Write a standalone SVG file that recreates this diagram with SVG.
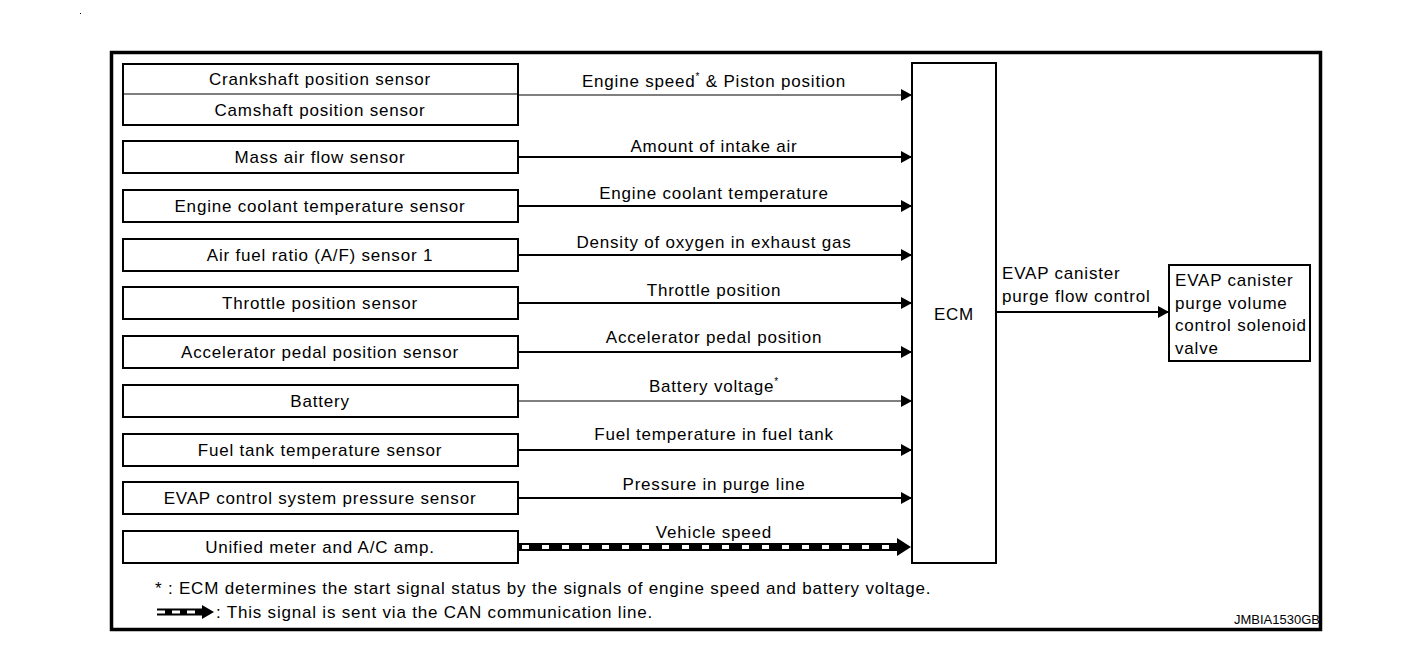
<svg xmlns="http://www.w3.org/2000/svg" width="1408" height="654" viewBox="0 0 1408 654">
<defs>
<style>
text{font-family:"Liberation Sans",Arial,sans-serif;font-size:17px;fill:#000;letter-spacing:0.8px}
.c{text-anchor:middle}
.box{fill:#fff;stroke:#000;stroke-width:2}
.ln{stroke:#000;stroke-width:2;fill:none}
.thin{stroke-width:1.2}
.sup{font-size:10px}
</style>
<marker id="ah" markerUnits="userSpaceOnUse" markerWidth="12" markerHeight="14" refX="11" refY="6" orient="auto">
<path d="M0,0 L11,6 L0,12 Z" fill="#000"/>
</marker>
</defs>
<rect x="0" y="0" width="1408" height="654" fill="#fff"/>
<rect x="80" y="13" width="1" height="1" fill="#000"/>
<rect x="111.5" y="52.5" width="1209" height="577" fill="none" stroke="#000" stroke-width="3.5"/>

<g id="n-crank-cam">
<rect class="box" x="123" y="64" width="395" height="61"/>
<line x1="123" y1="94" x2="518" y2="94" stroke="#000" stroke-width="1"/>
<text class="c" x="320" y="85">Crankshaft position sensor</text>
<text class="c" x="320" y="116">Camshaft position sensor</text>
</g>
<g id="n-maf"><rect class="box" x="123" y="141" width="395" height="32"/><text class="c" x="320" y="163">Mass air flow sensor</text></g>
<g id="n-ect"><rect class="box" x="123" y="190" width="395" height="32"/><text class="c" x="320" y="212">Engine coolant temperature sensor</text></g>
<g id="n-af"><rect class="box" x="123" y="239" width="395" height="32"/><text class="c" x="320" y="261">Air fuel ratio (A/F) sensor 1</text></g>
<g id="n-tps"><rect class="box" x="123" y="287" width="395" height="32"/><text class="c" x="320" y="309">Throttle position sensor</text></g>
<g id="n-app"><rect class="box" x="123" y="336" width="395" height="32"/><text class="c" x="320" y="358">Accelerator pedal position sensor</text></g>
<g id="n-bat"><rect class="box" x="123" y="385" width="395" height="32"/><text class="c" x="320" y="407">Battery</text></g>
<g id="n-ftt"><rect class="box" x="123" y="434" width="395" height="32"/><text class="c" x="320" y="456">Fuel tank temperature sensor</text></g>
<g id="n-evp"><rect class="box" x="123" y="482" width="395" height="32"/><text class="c" x="320" y="504">EVAP control system pressure sensor</text></g>
<g id="n-meter"><rect class="box" x="123" y="531" width="395" height="32"/><text class="c" x="320" y="553">Unified meter and A/C amp.</text></g>

<g id="n-ecm"><rect class="box" x="912" y="63" width="84" height="500"/><text class="c" x="954" y="320">ECM</text></g>
<g id="n-valve">
<rect class="box" x="1169" y="265" width="141" height="96"/>
<text x="1175" y="286">EVAP canister</text>
<text x="1175" y="309">purge volume</text>
<text x="1175" y="331">control solenoid</text>
<text x="1175" y="354">valve</text>
</g>

<g id="connectors">
<line class="ln thin" x1="518" y1="95" x2="912" y2="95" marker-end="url(#ah)"/>
<line class="ln" x1="518" y1="157" x2="912" y2="157" marker-end="url(#ah)"/>
<line class="ln" x1="518" y1="206" x2="912" y2="206" marker-end="url(#ah)"/>
<line class="ln" x1="518" y1="255" x2="912" y2="255" marker-end="url(#ah)"/>
<line class="ln" x1="518" y1="303" x2="912" y2="303" marker-end="url(#ah)"/>
<line class="ln" x1="518" y1="352" x2="912" y2="352" marker-end="url(#ah)"/>
<line class="ln thin" x1="518" y1="401" x2="912" y2="401" marker-end="url(#ah)"/>
<line class="ln" x1="518" y1="450" x2="912" y2="450" marker-end="url(#ah)"/>
<line class="ln" x1="518" y1="498" x2="912" y2="498" marker-end="url(#ah)"/>
<g id="can-line">
<line x1="518" y1="547" x2="898" y2="547" stroke="#000" stroke-width="8"/>
<line x1="522" y1="547" x2="894" y2="547" stroke="#fff" stroke-width="4" stroke-dasharray="7 13"/>
<path d="M897,538 L911,547 L897,556 Z" fill="#000"/>
</g>
<line class="ln" x1="996" y1="312" x2="1169" y2="312" marker-end="url(#ah)"/>

<text class="c" x="714" y="87">Engine speed<tspan class="sup" dy="-7">*</tspan><tspan dy="7"> &amp; Piston position</tspan></text>
<text class="c" x="714" y="152">Amount of intake air</text>
<text class="c" x="714" y="199">Engine coolant temperature</text>
<text class="c" x="714" y="248">Density of oxygen in exhaust gas</text>
<text class="c" x="714" y="296">Throttle position</text>
<text class="c" x="714" y="343">Accelerator pedal position</text>
<text class="c" x="714" y="392">Battery voltage<tspan class="sup" dy="-7">*</tspan></text>
<text class="c" x="714" y="440">Fuel temperature in fuel tank</text>
<text class="c" x="714" y="490">Pressure in purge line</text>
<text class="c" x="714" y="538">Vehicle speed</text>
<text x="1002" y="279">EVAP canister</text>
<text x="1002" y="302">purge flow control</text>
</g>

<g id="legend">
<text x="155" y="594">* : ECM determines the start signal status by the signals of engine speed and battery voltage.</text>
<line x1="157" y1="612" x2="203" y2="612" stroke="#000" stroke-width="7"/>
<line x1="157" y1="612" x2="200" y2="612" stroke="#fff" stroke-width="3" stroke-dasharray="8 7"/>
<path d="M202,605 L214,612 L202,619 Z" fill="#000"/>
<text x="216" y="618">: This signal is sent via the CAN communication line.</text>
<text x="1320" y="624" text-anchor="end" style="font-size:13px;letter-spacing:0">JMBIA1530GB</text>
</g>
</svg>
